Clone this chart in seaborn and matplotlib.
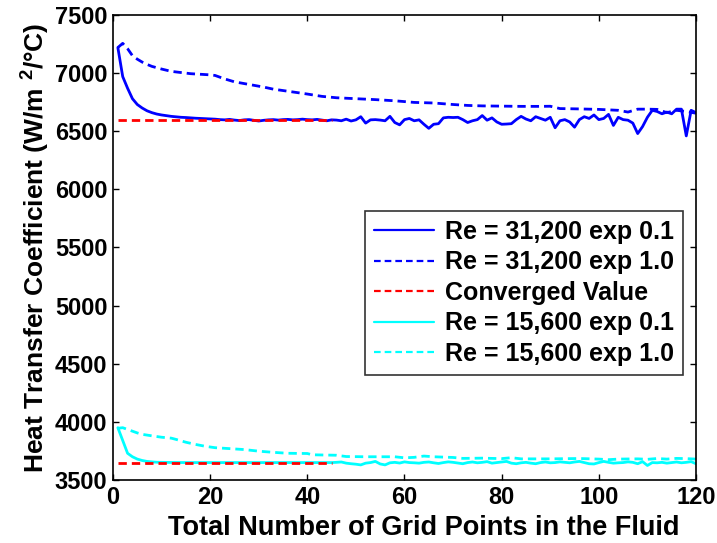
import numpy as np
import pandas as pd
import matplotlib
matplotlib.use("Agg")
import matplotlib.pyplot as plt
import seaborn as sns

# ---- data -------------------------------------------------------------
# Re = 31,200, expansion 0.1 (one value per grid-point count, 1..120)
x_hi_01 = list(range(1, 121))
h_hi_01 = [
    7220, 6970, 6870, 6780, 6730, 6700, 6676, 6660, 6648, 6640,
    6634, 6628, 6624, 6620, 6618, 6615, 6612, 6610, 6608, 6606,
    6604, 6600, 6598, 6602, 6596, 6592, 6598, 6600, 6594, 6588,
    6594, 6598, 6600, 6596, 6600, 6602, 6598, 6600, 6604, 6600,
    6598, 6602, 6596, 6590, 6598, 6596, 6590, 6604, 6588, 6598,
    6625, 6570, 6598, 6600, 6596, 6590, 6628, 6575, 6555, 6600,
    6610, 6590, 6598, 6560, 6525, 6560, 6565, 6615, 6620, 6618,
    6620, 6600, 6575, 6590, 6600, 6635, 6595, 6615, 6580, 6560,
    6562, 6565, 6600, 6628, 6605, 6590, 6625, 6610, 6595, 6620,
    6530, 6590, 6600, 6580, 6535, 6600, 6625, 6610, 6640, 6600,
    6610, 6645, 6550, 6620, 6600, 6595, 6570, 6480, 6540, 6620,
    6680, 6670, 6650, 6665, 6650, 6690, 6690, 6460, 6680, 6660,
]

# Re = 31,200, expansion 1.0
x_hi_10 = [1, 2, 3, 4, 5, 6, 7, 8, 10, 12, 14, 16, 18, 20, 21, 23, 25, 27,
           29, 31, 33, 35, 37, 40, 43, 46, 50, 54, 58, 62, 66, 70, 73, 76,
           80, 84, 88, 90, 92, 96, 100, 104, 106, 108, 110, 112, 114, 116,
           118, 120]
h_hi_10 = [7220, 7256, 7210, 7150, 7120, 7095, 7075, 7058, 7035, 7015,
           7005, 6995, 6990, 6985, 6980, 6950, 6925, 6910, 6895, 6880,
           6862, 6850, 6838, 6820, 6800, 6788, 6780, 6772, 6762, 6748,
           6743, 6730, 6722, 6718, 6716, 6714, 6714, 6715, 6695, 6692,
           6688, 6680, 6665, 6690, 6690, 6688, 6660, 6680, 6670, 6655]

# Converged values
x_conv = [1, 45]
h_conv_hi = [6600, 6600]
h_conv_lo = [3650, 3650]

# Re = 15,600, expansion 0.1
x_lo_01 = [1, 2, 3, 4, 5, 6, 7, 8, 9, 10, 12, 15, 20, 25, 30, 35, 40, 45] + list(range(46, 121))
h_lo_01 = [3950, 3840, 3730, 3700, 3680, 3668, 3660, 3656, 3653, 3652,
           3651, 3650, 3650, 3650, 3650, 3650, 3650, 3650,
           3652, 3655, 3645, 3640, 3636, 3630, 3645, 3650, 3660, 3638,
           3630, 3648, 3652, 3646, 3656, 3650, 3648, 3645, 3652, 3655,
           3648, 3642, 3650, 3656, 3652, 3646, 3640, 3650, 3655, 3648,
           3652, 3658, 3645, 3650, 3655, 3660, 3645, 3640, 3648, 3652,
           3645, 3640, 3650, 3655, 3648, 3650, 3656, 3652, 3648, 3655,
           3660, 3650, 3640, 3638, 3650, 3660, 3652, 3645, 3648, 3650,
           3656, 3652, 3640, 3658, 3625, 3650, 3648, 3652, 3645, 3650,
           3655, 3648, 3652, 3658, 3640]

# Re = 15,600, expansion 1.0
x_lo_10 = [1, 2, 3, 4, 5, 6, 8, 10, 12, 13, 15, 17, 19, 21, 24, 27, 30, 33,
           36, 40, 41, 46, 48, 52, 58, 60, 62, 64, 66, 70, 72, 76, 80, 82,
           84, 90, 96, 100, 102, 104, 108, 110, 112, 114, 116, 118, 120]
h_lo_10 = [3945, 3950, 3935, 3920, 3905, 3893, 3880, 3868, 3860, 3849,
           3825, 3806, 3790, 3778, 3770, 3762, 3748, 3738, 3730, 3728,
           3717, 3713, 3702, 3700, 3700, 3691, 3695, 3706, 3700, 3694,
           3686, 3688, 3684, 3692, 3682, 3682, 3685, 3680, 3675, 3680,
           3682, 3678, 3685, 3680, 3686, 3684, 3680]

x_ticks = [0, 20, 40, 60, 80, 100, 120]
y_ticks = [3500, 4000, 4500, 5000, 5500, 6000, 6500, 7000, 7500]

# ---- style ------------------------------------------------------------
sns.set_theme(style="ticks")
plt.rcParams["font.family"] = ["Liberation Sans", "DejaVu Sans"]
plt.rcParams["font.weight"] = "bold"
plt.rcParams["text.color"] = "black"
plt.rcParams["axes.labelcolor"] = "black"
plt.rcParams["xtick.color"] = "black"
plt.rcParams["ytick.color"] = "black"
plt.rcParams["mathtext.fontset"] = "custom"
plt.rcParams["mathtext.bf"] = "Liberation Sans:bold"
plt.rcParams["mathtext.rm"] = "Liberation Sans:bold"

fig = plt.figure(figsize=(7.17, 5.43), dpi=100)
ax = fig.add_axes([0.1576, 0.116, 0.8131, 0.8564])

lw = 2.0
dash = (3, 1.8)
series = [
    (x_hi_01, h_hi_01, "#0000ff", "-", "Re = 31,200 exp 0.1"),
    (x_hi_10, h_hi_10, "#0000ff", "--", "Re = 31,200 exp 1.0"),
    (x_conv, h_conv_hi, "#ff0000", "--", "Converged Value"),
    (x_lo_01, h_lo_01, "#00ffff", "-", "Re = 15,600 exp 0.1"),
    (x_lo_10, h_lo_10, "#00ffff", "--", "Re = 15,600 exp 1.0"),
]
for xs, ys, col, ls, lab in series:
    sns.lineplot(x=xs, y=ys, color=col, lw=lw, label=lab, ax=ax,
                 estimator=None, sort=False, linestyle=ls)
# lower converged line shares the legend entry of the upper one
sns.lineplot(x=x_conv, y=h_conv_lo, color="#ff0000", lw=lw, linestyle="--",
             ax=ax, estimator=None, sort=False, legend=False)
for ln in ax.get_lines():
    if ln.get_linestyle() == "--":
        ln.set_dashes(dash)

ax.set_xlim(0, 120)
ax.set_ylim(3500, 7500)
ax.set_xticks(x_ticks)
ax.set_yticks(y_ticks)
ax.tick_params(direction="in", top=True, right=True, length=4, width=1.0,
               labelsize=17, colors="black", pad=4)
for lbl in ax.get_xticklabels() + ax.get_yticklabels():
    lbl.set_fontweight("bold")
for sp in ax.spines.values():
    sp.set_linewidth(1.2)
    sp.set_color("black")

ax.set_xlabel("Total Number of Grid Points in the Fluid", fontsize=19.5,
              fontweight="bold", color="black")
ax.xaxis.set_label_coords(0.533, -0.076)
ax.set_ylabel(r"Heat Transfer Coefficient (W/m $^{\mathbf{2}}$/°C)",
              fontsize=19, fontweight="bold", labelpad=3, color="black")

leg = ax.legend(loc="upper right", bbox_to_anchor=(0.978, 0.578),
                fontsize=18, frameon=True, fancybox=False, handlelength=2.4,
                handletextpad=0.45, labelspacing=0.26, borderpad=0.35,
                borderaxespad=0)
leg.get_frame().set_edgecolor("black")
leg.get_frame().set_linewidth(1.2)
for t in leg.get_texts():
    t.set_fontweight("bold")
    t.set_color("black")
for h in leg.get_lines():
    h.set_linewidth(1.6)

fig.savefig("out.png", dpi=100, facecolor="white")
